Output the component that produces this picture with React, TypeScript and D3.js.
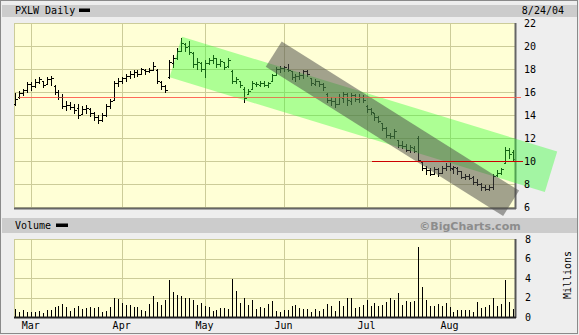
import React from "react";
import * as d3 from "d3";

const tickerTitle = "PXLW Daily";
const dateLabel = "8/24/04";
const volumeTitle = "Volume";
const copyrightText = "©BigCharts.com";
const volumeUnit = "Millions";

const monthLabels = ["Mar", "Apr", "May", "Jun", "Jul", "Aug"];
const monthStartIndex = [4, 27, 48, 68, 89, 110];
const priceTicks = [22, 20, 18, 16, 14, 12, 10, 8, 6];
const volumeTicks = [8, 6, 4, 2, 0];

const opens = [15.0,15.6,15.9,16.2,16.7,16.5,16.9,17.0,16.7,17.1,16.5,16.0,15.6,14.8,14.9,14.7,14.6,14.1,14.5,14.5,14.2,13.8,13.6,14.0,14.8,15.3,16.8,17.0,17.2,17.4,17.6,17.7,17.6,17.9,17.8,17.9,17.9,16.9,16.5,17.3,18.5,19.0,19.6,20.2,20.0,19.4,18.4,18.5,18.0,18.5,18.8,19.0,18.4,18.6,18.3,17.8,17.0,17.0,16.3,15.8,16.3,16.7,16.6,16.8,16.6,17.0,17.5,18.0,18.1,18.0,17.8,17.3,17.4,17.5,17.8,17.2,16.7,17.0,16.7,15.8,15.3,15.2,15.0,15.5,15.8,15.2,15.7,15.4,15.6,14.8,14.5,14.2,13.8,13.3,12.9,12.3,12.2,11.8,11.4,11.3,11.0,11.1,12.0,9.9,9.4,9.2,8.9,9.3,9.0,9.4,9.6,9.3,9.4,9.1,8.6,8.7,8.6,8.2,8.0,7.7,7.6,7.7,8.8,9.0,9.8,11.0,10.8];
const highs = [15.9,16.1,16.3,16.9,16.9,17.1,17.3,17.0,17.3,17.4,16.6,16.2,15.8,15.2,15.1,15.0,15.0,14.8,14.9,14.6,14.3,14.0,14.2,15.0,15.4,17.0,17.2,17.3,17.6,17.8,17.9,17.9,18.1,18.0,18.1,18.6,18.0,17.0,16.6,18.8,19.2,19.8,20.7,20.3,20.4,19.5,19.0,18.6,18.8,19.0,19.2,19.0,18.9,18.6,19.0,17.9,17.3,17.0,16.4,16.3,17.0,16.9,17.0,17.0,16.9,17.6,18.2,18.3,18.3,18.4,17.8,17.6,17.7,17.9,17.9,17.2,17.1,17.0,16.8,15.9,15.6,15.5,15.8,16.0,15.9,15.9,15.8,15.8,15.7,14.9,14.6,14.2,13.9,13.3,13.0,12.4,12.8,11.8,11.7,11.5,11.4,11.3,12.2,10.0,9.6,9.4,9.5,9.4,9.6,9.8,9.8,9.6,9.5,9.1,8.9,8.9,8.7,8.4,8.1,7.9,7.9,8.9,9.2,9.4,11.2,11.1,11.0];
const lows = [14.9,15.5,15.7,16.0,16.2,16.4,16.8,16.4,16.7,16.6,15.8,15.4,14.6,14.4,14.5,14.2,13.7,14.1,14.2,13.9,13.6,13.3,13.5,13.9,14.6,15.3,16.5,16.8,17.0,17.2,17.3,17.4,17.6,17.6,17.7,17.9,16.8,16.3,16.0,17.2,18.2,18.9,19.6,19.6,19.3,18.2,18.0,17.8,17.3,18.4,18.5,18.2,18.3,18.0,18.2,16.8,16.8,16.4,15.1,15.8,16.3,16.5,16.5,16.5,16.4,17.0,17.5,17.7,17.8,17.8,17.1,17.0,17.1,17.2,17.4,16.6,16.6,16.5,16.2,15.1,14.9,14.7,15.0,15.1,14.9,15.0,15.2,15.1,15.1,14.3,14.1,13.6,13.4,12.7,12.1,12.0,12.0,11.2,11.1,10.9,10.8,10.8,10.0,9.2,8.9,8.8,8.9,8.7,9.0,9.2,9.2,9.0,8.9,8.5,8.4,8.4,8.0,7.9,7.5,7.5,7.5,7.6,8.7,8.9,9.8,10.3,10.1];
const closes = [15.4,15.9,16.2,16.7,16.5,16.9,17.1,16.6,17.1,17.2,16.0,15.6,14.8,14.9,14.7,14.4,14.0,14.5,14.6,14.2,13.8,13.6,14.0,14.8,15.2,16.8,17.0,17.2,17.4,17.6,17.7,17.6,18.0,17.8,17.9,18.3,17.0,16.5,16.2,18.6,19.0,19.6,20.3,19.9,19.5,18.4,18.6,18.0,18.5,18.8,19.0,18.4,18.7,18.2,18.8,17.0,17.1,16.6,15.5,16.1,16.8,16.7,16.8,16.6,16.8,17.5,18.0,18.1,18.2,17.9,17.3,17.4,17.5,17.8,17.6,16.8,17.0,16.7,16.4,15.3,15.2,15.0,15.6,15.8,15.3,15.7,15.4,15.6,15.3,14.5,14.3,13.8,13.5,12.9,12.3,12.2,12.6,11.4,11.3,11.0,11.2,10.9,10.1,9.4,9.2,8.9,9.3,9.0,9.4,9.6,9.4,9.5,9.1,8.6,8.7,8.5,8.2,8.0,7.7,7.6,7.7,8.7,9.0,9.3,11.0,10.6,10.2];
const volumes = [0.85,0.5,0.75,0.5,0.5,0.5,0.65,0.4,0.75,0.75,1.0,1.15,1.35,1.05,0.65,0.95,1.1,0.8,0.9,1.05,0.9,1.05,0.55,0.6,1.0,1.9,1.8,1.45,1.2,1.25,1.05,1.0,0.75,0.6,1.35,2.2,1.55,1.25,1.75,3.75,2.6,2.3,2.2,1.9,1.9,1.75,1.25,1.45,1.15,1.05,0.65,0.75,0.9,0.95,0.85,3.9,2.7,1.45,2.0,1.25,1.75,0.85,1.05,0.9,1.35,1.65,0.65,0.55,0.75,0.75,1.15,1.25,0.95,0.85,0.85,0.55,0.85,0.65,0.85,1.35,1.15,0.65,1.65,1.15,1.9,2.0,0.95,1.05,1.25,1.75,1.15,1.45,1.15,1.25,1.55,1.9,1.75,2.5,1.25,1.65,1.55,1.65,7.2,3.05,1.75,1.15,1.15,1.35,1.15,1.45,1.05,0.5,0.75,0.75,0.7,0.75,0.55,1.55,0.95,1.05,1.25,2.0,1.15,1.35,3.8,1.55,0.85];

// horizontal reference lines (price, start bar index, end bar index)
const levelPrices = [15.6, 10.0];
const levelStart = [1, 90.5];
const levelEnd = [128, 128.5];

// trend channels (start index/price, end index/price, vertical height in price units)
const channelStartIndex = [40.7, 65.5];
const channelStartPrice = [19.04, 19.29];
const channelEndIndex = [135.7, 125.6];
const channelEndPrice = [9.07, 6.32];
const channelHeight = [3.84, 3.08];

const MONO = "'DejaVu Sans Mono', monospace";

export default function App() {
  const W = 579, H = 335;
  const pL = 14, pR = 515, pT = 23, pB = 207;
  const vT = 239, vB = 317;
  const x = d3.scaleLinear().domain([0, 126]).range([15, 512.7]);
  const y = d3.scaleLinear().domain([6, 22]).range([pB, pT]);
  const yv = d3.scaleLinear().domain([0, 8]).range([vB, vT]);
  const grid = "#cccc99";
  const cx = (i: number) => Math.round(x(i)) + 0.5;
  const cy = (v: number) => Math.round(y(v)) + 0.5;

  const channelPolys = channelStartIndex.map((_, k) => {
    const x0 = x(channelStartIndex[k]), y0 = y(channelStartPrice[k]);
    const x1 = x(channelEndIndex[k]), y1 = y(channelEndPrice[k]);
    const dx = x1 - x0, dy = y1 - y0;
    const len = Math.hypot(dx, dy);
    const ux = dx / len, uy = dy / len;
    const vGap = Math.abs(y(0) - y(channelHeight[k]));
    const half = (vGap * ux) / 2;
    const nx = -uy * half, ny = ux * half;
    const pts: [number, number][] = [
      [x0 - nx, y0 - ny], [x1 - nx, y1 - ny], [x1 + nx, y1 + ny], [x0 + nx, y0 + ny],
    ];
    return d3.line()(pts) + "Z";
  });

  return (
    <div style={{ position: "fixed", left: 0, top: 0 }}>
      <svg width={W} height={H} style={{ display: "block" }}>
        <rect x={0} y={0} width={W} height={H} fill="#eeeeee" />
        <rect x={0.5} y={0.5} width={577} height={333} fill="none" stroke="#8a8a8a" />
        <rect x={2} y={5} width={575} height={12} fill="#cccccc" />
        <text x={15} y={13.5} fontFamily={MONO} fontSize={10} fill="#000">{tickerTitle}</text>
        <rect x={79} y={8.5} width={11} height={3.5} fill="#000" />
        <text x={564} y={13.5} textAnchor="end" fontFamily={MONO} fontSize={10} fill="#000">{dateLabel}</text>

        {/* price panel */}
        <rect x={pL} y={pT} width={pR - pL} height={pB - pT + 1} fill="#ffffd6" />
        {priceTicks.map((t) => (
          <line key={"pg" + t} x1={pL} x2={pR} y1={cy(t)} y2={cy(t)} stroke={grid} />
        ))}
        {monthStartIndex.map((m) => (
          <line key={"pv" + m} x1={cx(m)} x2={cx(m)} y1={pT} y2={pB + 1} stroke={grid} />
        ))}
        <line x1={pL + 0.5} x2={pL + 0.5} y1={pT} y2={pB + 1} stroke={grid} />
        <line x1={x(levelStart[0])} x2={x(levelEnd[0])} y1={cy(levelPrices[0])} y2={cy(levelPrices[0])} stroke="#ff6a5a" strokeWidth={1} shapeRendering="crispEdges" />
        {closes.map((c, i) => (
          <g key={"b" + i} stroke="#000" strokeWidth={1} shapeRendering="crispEdges">
            <line x1={cx(i)} x2={cx(i)} y1={Math.round(y(highs[i]))} y2={Math.round(y(lows[i])) + 1} strokeWidth={1.5} />
            <line x1={cx(i) - 2} x2={cx(i)} y1={cy(opens[i])} y2={cy(opens[i])} />
            <line x1={cx(i)} x2={cx(i) + 2.5} y1={cy(c)} y2={cy(c)} />
          </g>
        ))}
        <line x1={pR + 0.5} x2={pR + 0.5} y1={pT} y2={pB + 2} stroke="#666" strokeWidth={2} />
        <line x1={pL} x2={pR + 1} y1={pB + 1.5} y2={pB + 1.5} stroke="#666" strokeWidth={2} />

        {/* band */}
        <rect x={2} y={218} width={575} height={15} fill="#cccccc" />
        <text x={15} y={229} fontFamily={MONO} fontSize={10} fill="#000">{volumeTitle}</text>
        <rect x={56} y={223.5} width={12} height={3.5} fill="#000" />
        <text x={470} y={230} textAnchor="middle" fontFamily="'DejaVu Sans', sans-serif" fontWeight="bold" fontSize={11} fill="#8c8c8c">{copyrightText}</text>

        {/* channels */}
        <path d={channelPolys[0]} fill="#33ff33" fillOpacity={0.4} />
        <path d={channelPolys[1]} fill="#4c4c48" fillOpacity={0.52} />

        {/* reference lines over channels */}
        <line x1={x(pR > 0 ? levelStart[0] : 0)} x2={x(levelEnd[0])} y1={cy(levelPrices[0])} y2={cy(levelPrices[0])} stroke="#ff6a5a" strokeOpacity={0.6} shapeRendering="crispEdges" />
        <line x1={x(levelStart[1])} x2={x(levelEnd[1])} y1={cy(levelPrices[1])} y2={cy(levelPrices[1])} stroke="#cc0000" shapeRendering="crispEdges" />

        {priceTicks.map((t) => (
          <text key={"pl" + t} x={524} y={y(t)} dy="0.35em" fontFamily={MONO} fontSize={10} fill="#000">{t}</text>
        ))}

        {/* volume panel */}
        <rect x={pL} y={vT} width={pR - pL} height={vB - vT} fill="#ffffd6" />
        {volumeTicks.map((t) => (
          <line key={"vg" + t} x1={pL} x2={pR} y1={Math.round(yv(t)) + 0.5} y2={Math.round(yv(t)) + 0.5} stroke={grid} />
        ))}
        {monthStartIndex.map((m) => (
          <line key={"vv" + m} x1={cx(m)} x2={cx(m)} y1={vT} y2={vB} stroke={grid} />
        ))}
        <line x1={pL + 0.5} x2={pL + 0.5} y1={vT} y2={vB} stroke={grid} />
        {volumes.map((v, i) => (
          <line key={"v" + i} x1={cx(i)} x2={cx(i)} y1={yv(v)} y2={vB} stroke="#000" strokeWidth={1.2} shapeRendering="crispEdges" />
        ))}
        <line x1={pR + 0.5} x2={pR + 0.5} y1={vT} y2={vB + 1} stroke="#555" strokeWidth={2} />
        <line x1={pL} x2={pR + 1} y1={vB + 0.5} y2={vB + 0.5} stroke="#222" strokeWidth={2} />
        {volumeTicks.map((t) => (
          <text key={"vl" + t} x={525} y={yv(t)} dy="0.35em" fontFamily={MONO} fontSize={10} fill="#000">{t}</text>
        ))}
        <text transform="translate(567,275) rotate(-90)" textAnchor="middle" dy="0.35em" fontFamily={MONO} fontSize={10} fill="#000">{volumeUnit}</text>
        {monthLabels.map((m, k) => (
          <text key={"ml" + m} x={x(monthStartIndex[k])} y={329} textAnchor="middle" fontFamily={MONO} fontSize={10} fill="#000">{m}</text>
        ))}
      </svg>
    </div>
  );
}
